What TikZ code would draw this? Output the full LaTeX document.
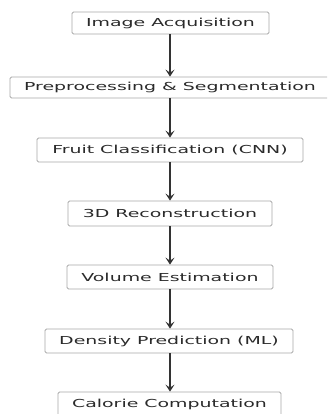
\documentclass[tikz,border=0pt]{standalone}
\usepackage{fontspec}
\newfontfamily\widefont[FakeStretch=1.72]{DejaVu Sans}
\usetikzlibrary{arrows.meta}
\definecolor{txtgray}{HTML}{2A2A2A}
\definecolor{boxgray}{HTML}{A8A8A8}
\definecolor{arrgray}{HTML}{333333}
\tikzset{
  stagebox/.style={draw=boxgray, line width=0.8pt, rounded corners=1.5pt, fill=white,
    text=txtgray, font=\widefont\fontsize{11}{13}\selectfont, inner sep=0pt},
  flowarrow/.style={draw=arrgray, line width=1.2pt, -{Stealth[length=7pt,width=9pt,inset=3pt]}}
}
\begin{document}
\begin{tikzpicture}[x=1pt,y=-1pt]
\useasboundingbox (0,0) rectangle (327,414);
\clip (0,0) rectangle (327,414);
\node[stagebox, minimum width=197pt, minimum height=22pt] (n1) at (170.5,23) {Image Acquisition};
\node[stagebox, minimum width=320pt, minimum height=21pt] (n2) at (170,87.5) {Preprocessing \& Segmentation};
\node[stagebox, minimum width=266pt, minimum height=24pt] (n3) at (170,150) {Fruit Classification (CNN)};
\node[stagebox, minimum width=204pt, minimum height=25pt] (n4) at (170,213.5) {3D Reconstruction};
\node[stagebox, minimum width=206pt, minimum height=24pt] (n5) at (170,277) {Volume Estimation};
\node[stagebox, minimum width=248pt, minimum height=24pt] (n6) at (169,341) {Density Prediction (ML)};
\node[stagebox, minimum width=223pt, minimum height=24pt] (n7) at (169.5,404) {Calorie Computation};
\draw[flowarrow] (n1.south -| 170,0) -- (n2.north -| 170,0);
\draw[flowarrow] (n2.south -| 170,0) -- (n3.north -| 170,0);
\draw[flowarrow] (n3.south -| 170,0) -- (n4.north -| 170,0);
\draw[flowarrow] (n4.south -| 170,0) -- (n5.north -| 170,0);
\draw[flowarrow] (n5.south -| 170,0) -- (n6.north -| 170,0);
\draw[flowarrow] (n6.south -| 170,0) -- (n7.north -| 170,0);
\end{tikzpicture}
\end{document}
